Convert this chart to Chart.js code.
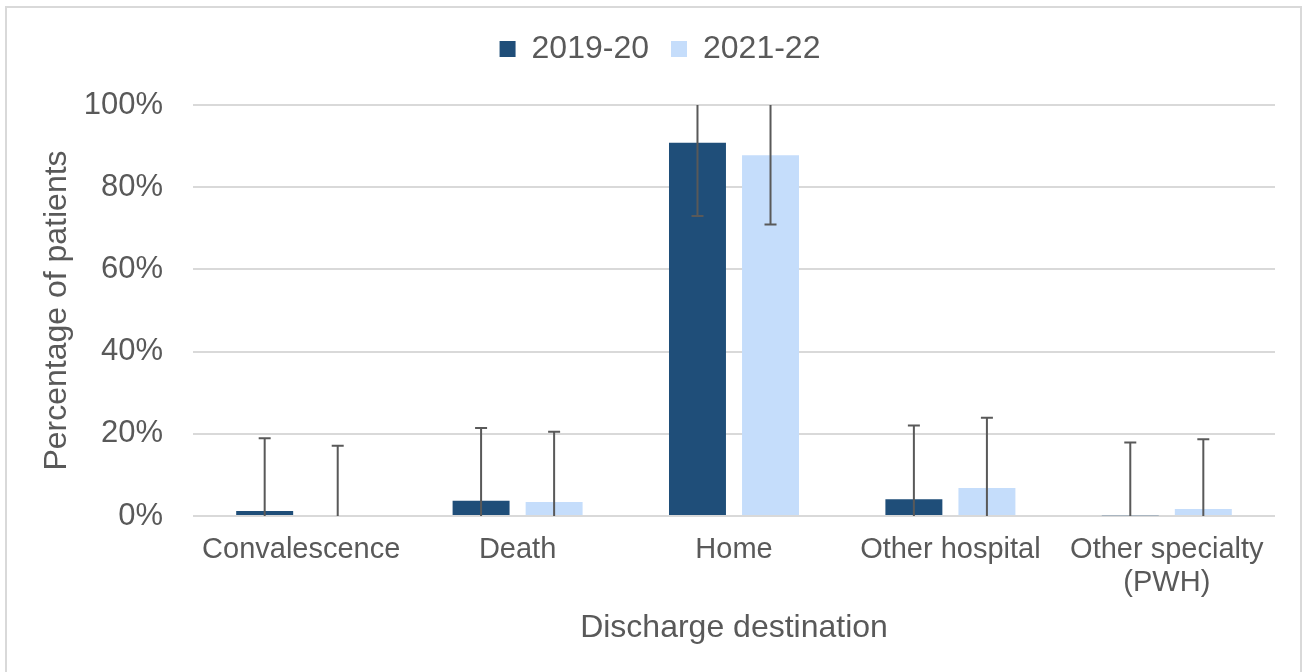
<!DOCTYPE html>
<html>
<head>
<meta charset="utf-8">
<script src="https://cdn.jsdelivr.net/npm/chart.js@4.4.1/dist/chart.umd.min.js"></script>
<style>
  html, body { margin: 0; padding: 0; background: #fff; }
  #wrap { position: relative; width: 1306px; height: 672px; overflow: hidden; }
  #frame { position: absolute; left: 5px; top: 6px; width: 1297px; height: 700px; border: 2px solid #d9d9d9; box-sizing: border-box; }
  #chart { position: absolute; left: 0; top: 0; }
</style>
</head>
<body>
<div id="wrap">
  <div id="frame"></div>
  <canvas id="chart" width="1306" height="672"></canvas>
</div>
<script>
'use strict';

// ── Data
const categories = ['Convalescence', 'Death', 'Home', 'Other hospital', ['Other specialty', '(PWH)']];
const seriesNames = ['2019-20', '2021-22'];
const values2019 = [1.2, 3.7, 90.8, 4.1, 0.2];
const values2021 = [0, 3.4, 87.8, 6.8, 1.7];
const errors2019 = [17.7, 17.7, 17.8, 17.9, 17.7];
const errors2021 = [17.1, 17.1, 16.9, 17.1, 17.0];
const yTicks = [0, 20, 40, 60, 80, 100];

const FONT = "'Liberation Sans', Arial, sans-serif";
const TEXT = '#595959';
const GRID = '#d9d9d9';

// draws the +/- error whiskers on top of the bars, clipped to the plot area
const errorBars = {
    id: 'errorBars',
    afterDatasetsDraw(chart) {
        const { ctx, chartArea, scales: { y } } = chart;
        ctx.save();
        ctx.beginPath();
        ctx.rect(chartArea.left, chartArea.top, chartArea.right - chartArea.left, chartArea.bottom - chartArea.top);
        ctx.clip();
        ctx.strokeStyle = '#595959';
        ctx.lineWidth = 2;
        chart.data.datasets.forEach((ds, i) => {
            const meta = chart.getDatasetMeta(i);
            meta.data.forEach((bar, j) => {
                const v = ds.data[j];
                const e = ds.errors[j];
                const top = y.getPixelForValue(v + e);
                const bot = y.getPixelForValue(v - e);
                ctx.beginPath();
                ctx.moveTo(bar.x, top);
                ctx.lineTo(bar.x, bot);
                ctx.moveTo(bar.x - 6, top);
                ctx.lineTo(bar.x + 6, top);
                ctx.moveTo(bar.x - 6, bot);
                ctx.lineTo(bar.x + 6, bot);
                ctx.stroke();
            });
        });
        ctx.restore();
    }
};

// fixes the legend band height and centres it over the whole frame, like the reference
const legendPlace = {
    id: 'legendPlace',
    beforeLayout(chart) {
        const lg = chart.legend;
        if (!lg || lg._patched) return;
        const fit = lg.fit;
        lg.fit = function () {
            fit.call(this);
            this.height = 94;
        };
        lg._patched = true;
    },
    afterLayout(chart) {
        if (chart.legend) chart.legend.left = 45;
    }
};

new Chart(document.getElementById('chart'), {
    type: 'bar',
    data: {
        labels: categories,
        datasets: [
            { label: seriesNames[0], data: values2019, errors: errors2019, backgroundColor: '#1f4e79', categoryPercentage: 0.675, barPercentage: 0.78 },
            { label: seriesNames[1], data: values2021, errors: errors2021, backgroundColor: '#c5ddfb', categoryPercentage: 0.675, barPercentage: 0.78 }
        ]
    },
    options: {
        responsive: false,
        animation: false,
        layout: { padding: { top: 11, right: 31, left: 0, bottom: 0 } },
        plugins: {
            legend: {
                position: 'top',
                labels: {
                    boxWidth: 16,
                    boxHeight: 16,
                    padding: 22,
                    color: TEXT,
                    font: { family: FONT, size: 32 }
                }
            },
            tooltip: { enabled: false }
        },
        scales: {
            x: {
                grid: { display: false, drawTicks: false },
                border: { display: false },
                ticks: { color: TEXT, padding: 17, maxRotation: 0, font: { family: FONT, size: 29, lineHeight: 1.14 } },
                title: { display: true, text: 'Discharge destination', color: TEXT, padding: { top: 0, bottom: 25 }, font: { family: FONT, size: 32 } },
                afterFit(scale) { scale.height = 156; }
            },
            y: {
                min: 0,
                max: 100,
                afterBuildTicks(scale) { scale.ticks = yTicks.map(v => ({ value: v })); },
                grid: { color: GRID, lineWidth: 2, drawTicks: false },
                border: { display: false },
                ticks: { color: TEXT, padding: 30, font: { family: FONT, size: 31 }, callback: v => v + '%' },
                title: { display: true, text: 'Percentage of patients', color: TEXT, padding: { top: 38, bottom: 0 }, font: { family: FONT, size: 32 } },
                afterFit(scale) { scale.width = 193; }
            }
        }
    },
    plugins: [errorBars, legendPlace]
});
</script>
</body>
</html>
